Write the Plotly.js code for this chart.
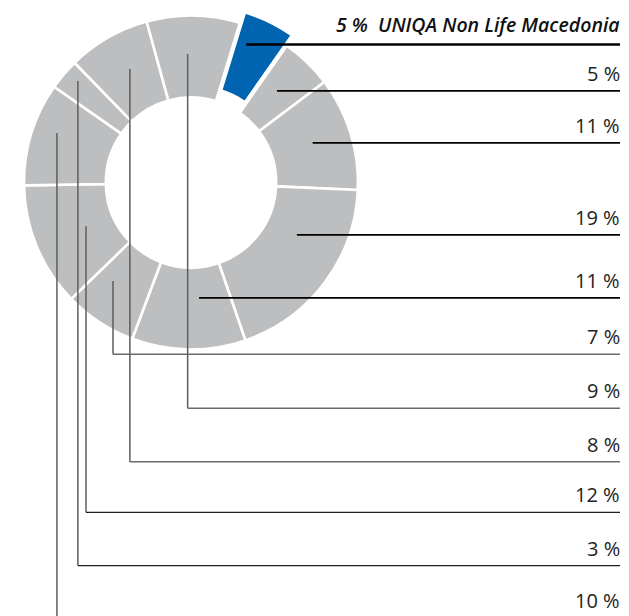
<!DOCTYPE html>
<html><head><meta charset="utf-8">
<script src="https://cdn.plot.ly/plotly-3.0.1.min.js"></script>
<style>html,body{margin:0;padding:0;background:#fff;}#chart{width:629px;height:616px;}</style>
</head><body><div id="chart"></div>
<script>
// ---- data (clockwise from the highlighted slice) ----
const categories = ['UNIQA Non Life Macedonia','Insurer 2','Insurer 3','Insurer 4','Insurer 5','Insurer 6','Insurer 7','Insurer 8','Insurer 9','Insurer 10','Insurer 11'];
const shares = [5, 5, 11, 19, 11, 7, 12, 10, 3, 8, 9];
const valueLabels = ['5 %','5 %','11 %','19 %','11 %','7 %','12 %','10 %','3 %','8 %','9 %'];
const highlightName = 'UNIQA Non Life Macedonia';

// ---- layout / styling parameters ----
const W = 629, H = 616;
const CX = 191, CY = 182.5, R = 167, PULL = 0.07, HOLE = 0.51, ROT = 17;
const leaderMode = ['h','h','h','h','h','v','v','v','v','v','v'];
const anchorRadius = [0.82,0.752,0.766,0.707,0.693,0.752,0.681,0.856,0.91,0.772,0.769];
const anchorAngleOffset = [-4.6,-0.8,-0.8,-10.5,-4.8,5.2,0,3.3,1.5,1.5,-2.3];
const rowY = [null,null,null,null,null,354.3,512.3,618,565.7,461.7,408.3];
const lineEndX = 620;

const isHi = categories.map(c => c === highlightName);
const colors = isHi.map(h => h ? '#0064b0' : '#bdbec0');
const pulls = isHi.map(h => h ? PULL : 0);

// pie domain so that the computed pie lands at CX,CY with radius R
const half = R * (1 + PULL);
const domain = {x: [(CX - half) / W, (CX + half) / W], y: [1 - (CY + half) / H, 1 - (CY - half) / H]};

const pie = {
  type: 'pie', values: shares, labels: categories, sort: false, direction: 'clockwise',
  rotation: ROT, hole: HOLE, pull: pulls, textinfo: 'none', hoverinfo: 'label+percent',
  marker: {colors: colors, line: {color: '#ffffff', width: 2.6}}, domain: domain, showlegend: false
};

// leader lines computed from slice geometry
const total = shares.reduce((a, b) => a + b, 0);
const px = x => x / W, py = y => 1 - y / H;
const shapes = [], annotations = [];
let cum = 0;
shares.forEach((v, i) => {
  const mid = ROT + (cum + v / 2) / total * 360;
  cum += v;
  const m = mid * Math.PI / 180;
  const ccx = CX + pulls[i] * R * Math.sin(m), ccy = CY - pulls[i] * R * Math.cos(m);
  const a = (mid + anchorAngleOffset[i]) * Math.PI / 180;
  const ax = ccx + anchorRadius[i] * R * Math.sin(a);
  const ay = ccy - anchorRadius[i] * R * Math.cos(a);
  let ly;
  if (leaderMode[i] === 'h') {
    ly = ay;
    shapes.push({type: 'line', xref: 'paper', yref: 'paper', x0: px(ax), y0: py(ay), x1: px(lineEndX), y1: py(ay),
      line: {color: '#000', width: isHi[i] ? 2.6 : 1.8}});
  } else {
    ly = rowY[i];
    shapes.push({type: 'line', xref: 'paper', yref: 'paper', x0: px(ax), y0: py(ay), x1: px(ax), y1: py(ly),
      line: {color: '#5e5e5e', width: 1.5}});
    const dark = (shares[i] === 12 || shares[i] === 3);
    shapes.push({type: 'line', xref: 'paper', yref: 'paper', x0: px(ax), y0: py(ly), x1: px(lineEndX), y1: py(ly),
      line: {color: dark ? '#1e1e1e' : '#6a6a6a', width: dark ? 1.2 : 1.5}});
  }
  const txt = isHi[i] ? valueLabels[i] + '  ' + categories[i] : valueLabels[i];
  annotations.push({xref: 'paper', yref: 'paper', x: px(lineEndX + 2), y: py(ly - (isHi[i] ? 4 : 2)),
    xanchor: 'right', yanchor: 'bottom', showarrow: false, text: txt,
    font: isHi[i] ? {family: 'Open Sans', size: 19.5, color: '#111', style: 'italic', weight: 600}
                  : {family: 'Open Sans', size: 20, color: '#222'}});
});

const layout = {
  width: W, height: H, margin: {l: 0, r: 0, t: 0, b: 0},
  paper_bgcolor: '#ffffff', plot_bgcolor: '#ffffff',
  shapes: shapes, annotations: annotations, showlegend: false
};
Plotly.newPlot('chart', [pie], layout, {staticPlot: true});
</script></body></html>
